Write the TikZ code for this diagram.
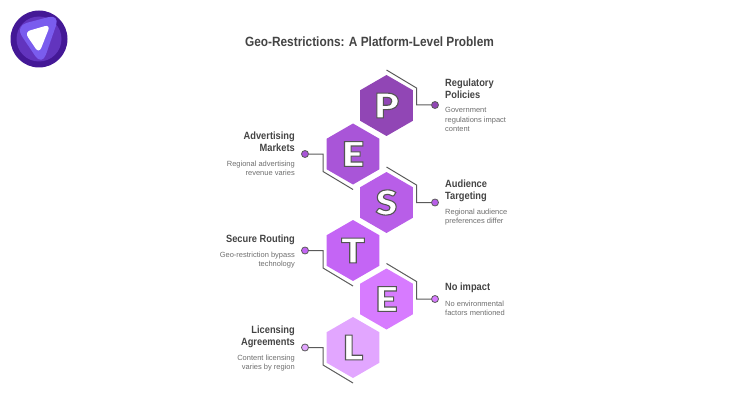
\documentclass[tikz,border=0pt]{standalone}
\usepackage{fontspec}
\setmainfont{Liberation Sans}
\newfontfamily\headfont[FakeStretch=0.885]{Liberation Sans}
\newfontfamily\letterfont[UprightFont=* Black, FakeStretch=1.15]{Lato}
\usetikzlibrary{shapes}
\usetikzlibrary{calc}
\definecolor{txtdark}{HTML}{444444}
\definecolor{txtgray}{HTML}{6E6E6E}
\definecolor{linkgray}{HTML}{5A5A5A}
\definecolor{colP}{HTML}{9146B5}
\definecolor{colEco}{HTML}{A955D8}
\definecolor{colS}{HTML}{B85EE8}
\definecolor{colT}{HTML}{C465F5}
\definecolor{colEnv}{HTML}{D77BFF}
\definecolor{colL}{HTML}{E2A6FF}
\definecolor{logoA}{HTML}{441896}
\definecolor{logoB}{HTML}{6234BE}
\definecolor{logoC}{HTML}{7A5CEE}
\tikzset{
  hexa/.style={regular polygon, regular polygon sides=6, shape border rotate=30, minimum size=61pt, inner sep=0pt, fill=#1},
  letter/.style={font=\letterfont\fontsize{34}{34}\selectfont, text=white},
  link/.style={draw=linkgray, line width=1pt},
  dot/.style={circle, draw=linkgray, line width=0.8pt, minimum size=7pt, inner sep=0pt, fill=#1},
  head/.style={font=\headfont\fontsize{10.5}{12}\selectfont\bfseries, text=txtdark, inner sep=0pt},
  desc/.style={font=\fontsize{7.5}{9.2}\selectfont, text=txtgray, inner sep=0pt}
}
\newcommand{\hexletter}[1]{\special{pdf:code q 2 Tr 1.1 w 0.33 0.33 0.33 RG 1 1 1 rg}#1\special{pdf:code Q}}
\begin{document}
\begin{tikzpicture}[x=1pt, y=-1pt]
            \useasboundingbox (0,0) rectangle (740,420);

            % logo
            \fill[logoA] (39,39) circle (28.5);
            \fill[logoB] (39,39) circle (22.5);
            \fill[logoC, rounded corners=12pt] (15,26) -- (60,14) -- (42,66) -- cycle;
            \fill[white, rounded corners=6pt] (24.5,32) -- (50.5,24.5) -- (39,53.5) -- cycle;

            % title
            \node[font=\headfont\fontsize{13.4}{15}\selectfont\bfseries, text=txtdark, inner sep=0pt] (title) at (369.5,42) {Geo-Restrictions: A Platform-Level Problem};

            % hexagons
            \node[hexa=colP]   (hexP)   at (386.5,105.5) {};
            \node[hexa=colEco] (hexEco) at (353,154)     {};
            \node[hexa=colS]   (hexS)   at (386.5,202.5) {};
            \node[hexa=colT]   (hexT)   at (353,250.5)   {};
            \node[hexa=colEnv] (hexEnv) at (386.5,299)   {};
            \node[hexa=colL]   (hexL)   at (353,347.5)   {};

            % letters
            \node[letter] (letP)   at (hexP)   {\hexletter{P}};
            \node[letter] (letEco) at (hexEco) {\hexletter{E}};
            \node[letter] (letS)   at (hexS)   {\hexletter{S}};
            \node[letter] (letT)   at (hexT)   {\hexletter{T}};
            \node[letter] (letEnv) at (hexEnv) {\hexletter{E}};
            \node[letter] (letL)   at (hexL)   {\hexletter{L}};

            % dots
            \node[dot=colP]   (dotP)   at (435,105)   {};
            \node[dot=colEco] (dotEco) at (305,154)   {};
            \node[dot=colS]   (dotS)   at (435,202.5) {};
            \node[dot=colT]   (dotT)   at (305,250.5) {};
            \node[dot=colEnv] (dotEnv) at (435,299)   {};
            \node[dot=colL]   (dotL)   at (305,347.5) {};

            % connectors
            \draw[link] ($(hexP)+(0,-35.5)$)   -- ($(hexP)+(30,-17.5)$)   |- (dotP);
            \draw[link] ($(hexEco)+(0,35.5)$)  -- ($(hexEco)+(-30,17.5)$) |- (dotEco);
            \draw[link] ($(hexS)+(0,-35.5)$)   -- ($(hexS)+(30,-17.5)$)   |- (dotS);
            \draw[link] ($(hexT)+(0,35.5)$)    -- ($(hexT)+(-30,17.5)$)   |- (dotT);
            \draw[link] ($(hexEnv)+(0,-35.5)$) -- ($(hexEnv)+(30,-17.5)$) |- (dotEnv);
            \draw[link] ($(hexL)+(0,35.5)$)    -- ($(hexL)+(-30,17.5)$)   |- (dotL);

            % right texts
            \node[head, anchor=north west, align=left] (headP) at (445,79) {Regulatory\\Policies};
            \node[desc, anchor=north west, align=left] (descP) at (445,107.5) {Government\\regulations impact\\content};
            \node[head, anchor=north west, align=left] (headS) at (445,180) {Audience\\Targeting};
            \node[desc, anchor=north west, align=left] (descS) at (445,208.5) {Regional audience\\preferences differ};
            \node[head, anchor=north west, align=left] (headEnv) at (445,283) {No impact};
            \node[desc, anchor=north west, align=left] (descEnv) at (445,300.5) {No environmental\\factors mentioned};

            % left texts
            \node[head, anchor=north east, align=right] (headEco) at (295,132) {Advertising\\Markets};
            \node[desc, anchor=north east, align=right] (descEco) at (295,160.5) {Regional advertising\\revenue varies};
            \node[head, anchor=north east, align=right] (headT) at (295,235) {Secure Routing};
            \node[desc, anchor=north east, align=right] (descT) at (295,251.5) {Geo-restriction bypass\\technology};
            \node[head, anchor=north east, align=right] (headL) at (295,326) {Licensing\\Agreements};
            \node[desc, anchor=north east, align=right] (descL) at (295,354.5) {Content licensing\\varies by region};
\end{tikzpicture}
\end{document}
